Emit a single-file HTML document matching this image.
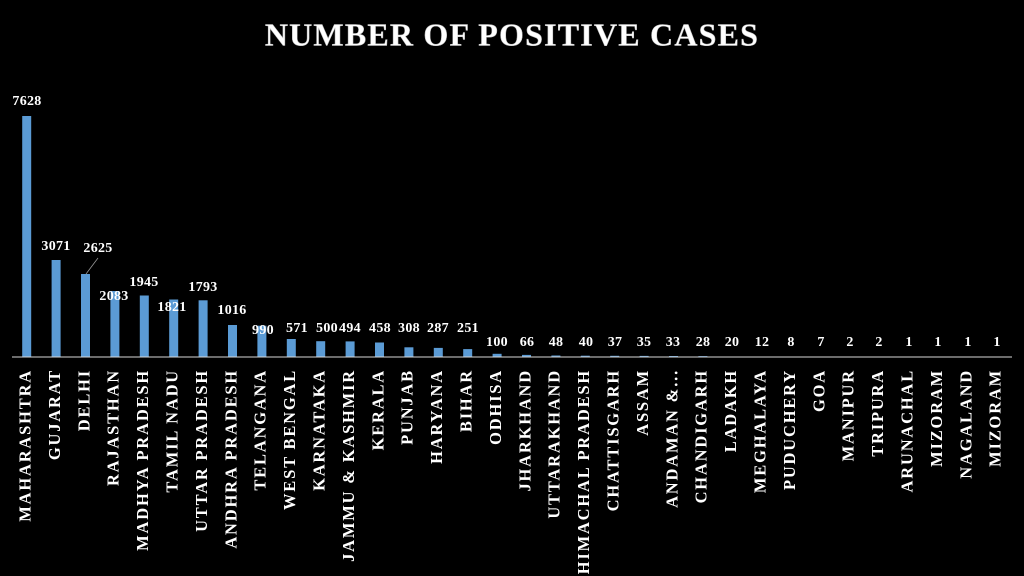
<!DOCTYPE html>
<html><head><meta charset="utf-8"><style>
html,body{margin:0;padding:0;background:#000;}
svg{display:block;}
.t{font-family:"Liberation Serif",serif;font-weight:bold;fill:#fff;}
.v{font-size:14px;text-anchor:middle;dominant-baseline:middle;letter-spacing:0.3px;}
.c{font-size:16.5px;letter-spacing:1.8px;text-anchor:end;dominant-baseline:middle;}
</style></head><body>
<svg width="1024" height="576" viewBox="0 0 1024 576">
<rect width="1024" height="576" fill="#000"/>
<text class="t" x="512" y="38" text-anchor="middle" dominant-baseline="middle" font-size="32" letter-spacing="1.2" fill="#fff" stroke="#bbb" stroke-width="0.5">NUMBER OF POSITIVE CASES</text>
<g fill="#5b9bd5">
<rect x="22.2" y="116" width="9" height="241"/>
<rect x="51.6" y="260" width="9" height="97"/>
<rect x="81" y="274" width="9" height="83"/>
<rect x="110.4" y="291" width="9" height="66"/>
<rect x="139.8" y="295.5" width="9" height="61.5"/>
<rect x="169.2" y="299.5" width="9" height="57.5"/>
<rect x="198.6" y="300.3" width="9" height="56.7"/>
<rect x="228" y="325" width="9" height="32"/>
<rect x="257.4" y="325.7" width="9" height="31.3"/>
<rect x="286.8" y="339" width="9" height="18"/>
<rect x="316.2" y="341.2" width="9" height="15.8"/>
<rect x="345.6" y="341.4" width="9" height="15.6"/>
<rect x="375" y="342.5" width="9" height="14.5"/>
<rect x="404.4" y="347.3" width="9" height="9.7"/>
<rect x="433.8" y="347.9" width="9" height="9.1"/>
<rect x="463.2" y="349.1" width="9" height="7.9"/>
<rect x="492.6" y="353.8" width="9" height="3.2"/>
<rect x="522" y="354.9" width="9" height="2.1"/>
<rect x="551.4" y="355.5" width="9" height="1.5"/>
<rect x="580.8" y="355.7" width="9" height="1.3"/>
<rect x="610.2" y="355.8" width="9" height="1.2"/>
<rect x="639.6" y="355.9" width="9" height="1.1"/>
<rect x="669" y="356" width="9" height="1"/>
<rect x="698.4" y="356.1" width="9" height="0.9"/>
</g>
<line x1="12" y1="357" x2="1012" y2="357" stroke="#d9d9d9" stroke-width="1"/>
<line x1="86" y1="274" x2="98" y2="258" stroke="#999" stroke-width="0.8"/>
<g class="t v">
<text x="27" y="102">7628</text>
<text x="56" y="247">3071</text>
<text x="98" y="249">2625</text>
<text x="114" y="297">2083</text>
<text x="144" y="283">1945</text>
<text x="172" y="308">1821</text>
<text x="203" y="288">1793</text>
<text x="232" y="311">1016</text>
<text x="263" y="331">990</text>
<text x="297" y="329">571</text>
<text x="327" y="329">500</text>
<text x="350" y="329">494</text>
<text x="380" y="329">458</text>
<text x="409" y="329">308</text>
<text x="438" y="329">287</text>
<text x="468" y="329">251</text>
<text x="497" y="343">100</text>
<text x="527" y="343">66</text>
<text x="556" y="343">48</text>
<text x="586" y="343">40</text>
<text x="615" y="343">37</text>
<text x="644" y="343">35</text>
<text x="673" y="343">33</text>
<text x="703" y="343">28</text>
<text x="732" y="343">20</text>
<text x="762" y="343">12</text>
<text x="791" y="343">8</text>
<text x="821" y="343">7</text>
<text x="850" y="343">2</text>
<text x="879" y="343">2</text>
<text x="909" y="343">1</text>
<text x="938" y="343">1</text>
<text x="968" y="343">1</text>
<text x="997" y="343">1</text>
</g>
<g class="t c">
<text transform="translate(26.7,369) rotate(-90)">MAHARASHTRA</text>
<text transform="translate(56.1,369) rotate(-90)">GUJARAT</text>
<text transform="translate(85.5,369) rotate(-90)">DELHI</text>
<text transform="translate(114.9,369) rotate(-90)">RAJASTHAN</text>
<text transform="translate(144.3,369) rotate(-90)">MADHYA PRADESH</text>
<text transform="translate(173.7,369) rotate(-90)">TAMIL NADU</text>
<text transform="translate(203.1,369) rotate(-90)">UTTAR PRADESH</text>
<text transform="translate(232.5,369) rotate(-90)">ANDHRA PRADESH</text>
<text transform="translate(261.9,369) rotate(-90)">TELANGANA</text>
<text transform="translate(291.3,369) rotate(-90)">WEST BENGAL</text>
<text transform="translate(320.7,369) rotate(-90)">KARNATAKA</text>
<text transform="translate(350.1,369) rotate(-90)">JAMMU &amp; KASHMIR</text>
<text transform="translate(379.5,369) rotate(-90)">KERALA</text>
<text transform="translate(408.9,369) rotate(-90)">PUNJAB</text>
<text transform="translate(438.3,369) rotate(-90)">HARYANA</text>
<text transform="translate(467.7,369) rotate(-90)">BIHAR</text>
<text transform="translate(497.1,369) rotate(-90)">ODHISA</text>
<text transform="translate(526.5,369) rotate(-90)">JHARKHAND</text>
<text transform="translate(555.9,369) rotate(-90)">UTTARAKHAND</text>
<text transform="translate(585.3,369) rotate(-90)">HIMACHAL PRADESH</text>
<text transform="translate(614.7,369) rotate(-90)">CHATTISGARH</text>
<text transform="translate(644.1,369) rotate(-90)">ASSAM</text>
<text transform="translate(673.5,369) rotate(-90)">ANDAMAN &amp;...</text>
<text transform="translate(702.9,369) rotate(-90)">CHANDIGARH</text>
<text transform="translate(732.3,369) rotate(-90)">LADAKH</text>
<text transform="translate(761.7,369) rotate(-90)">MEGHALAYA</text>
<text transform="translate(791.1,369) rotate(-90)">PUDUCHERY</text>
<text transform="translate(820.5,369) rotate(-90)">GOA</text>
<text transform="translate(849.9,369) rotate(-90)">MANIPUR</text>
<text transform="translate(879.3,369) rotate(-90)">TRIPURA</text>
<text transform="translate(908.7,369) rotate(-90)">ARUNACHAL</text>
<text transform="translate(938.1,369) rotate(-90)">MIZORAM</text>
<text transform="translate(967.5,369) rotate(-90)">NAGALAND</text>
<text transform="translate(996.9,369) rotate(-90)">MIZORAM</text>
</g>
</svg>
</body></html>
